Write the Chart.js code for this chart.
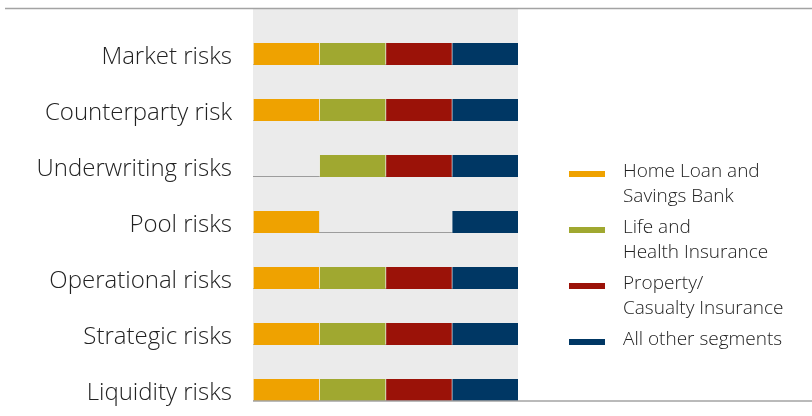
<!DOCTYPE html>
<html>
<head>
<meta charset="utf-8">
<script src="https://cdn.jsdelivr.net/npm/chart.js@4.4.1/dist/chart.umd.min.js"></script>
<style>
  html, body { margin: 0; padding: 0; background: #fff; width: 812px; height: 416px; overflow: hidden; }
  canvas { display: block; }
</style>
</head>
<body>
<canvas id="myChart" width="812" height="418"></canvas>
<script>
var risks = ['Market risks', 'Counterparty risk', 'Underwriting risks', 'Pool risks', 'Operational risks', 'Strategic risks', 'Liquidity risks'];

// 1 = the segment carries this risk, 0 = it does not
var homeLoan = [1, 1, 0, 1, 1, 1, 1];
var lifeHealth = [1, 1, 1, 0, 1, 1, 1];
var propertyCasualty = [1, 1, 1, 0, 1, 1, 1];
var otherSegments = [1, 1, 1, 1, 1, 1, 1];

var segmentNames = [['Home Loan and', 'Savings Bank'], ['Life and', 'Health Insurance'], ['Property/', 'Casualty Insurance'], ['All other segments']];
var segmentColors = ['#efa200', '#a0a830', '#9b1208', '#003764'];

var FONT = '"Open Sans", sans-serif';

// every segment owns one fixed column [i, i+1] on the x axis
function column(flags, i) {
    return flags.map(function (f) { return f ? [i, i + 1] : null; });
}

var flagSets = [homeLoan, lifeHealth, propertyCasualty, otherSegments];
var datasets = flagSets.map(function (flags, i) {
    return {
        label: segmentNames[i].join(' '),
        data: column(flags, i),
        backgroundColor: segmentColors[i],
        borderColor: 'rgba(255,255,255,0.3)',
        borderWidth: { left: 1, right: 0, top: 0, bottom: 0 },
        borderSkipped: false,
        grouped: false,
        barThickness: 22
    };
});

function rowBottom(chart, row) {
    var bar = chart.getDatasetMeta(3).data[row];
    return bar.y + bar.height / 2;
}

var riskFrame = {
    id: 'riskFrame',
    beforeDraw: function (chart) {
        var ctx = chart.ctx, area = chart.chartArea;
        var bottom = rowBottom(chart, risks.length - 1);
        ctx.save();
        ctx.fillStyle = '#ebebeb';
        ctx.fillRect(area.left, 9, area.right - area.left, bottom - 9);
        ctx.strokeStyle = '#a3a3a3';
        ctx.lineWidth = 1.5;
        ctx.beginPath();
        ctx.moveTo(5, 8.5);
        ctx.lineTo(chart.width, 8.5);
        ctx.stroke();
        ctx.restore();
    },
    beforeDatasetsDraw: function (chart) {
        // thin base line under each row, visible where a segment is missing
        var ctx = chart.ctx, x = chart.scales.x;
        ctx.save();
        ctx.strokeStyle = '#9c9c9c';
        ctx.lineWidth = 1;
        risks.forEach(function (r, i) {
            var y = Math.round(rowBottom(chart, i)) - 0.5;
            ctx.beginPath();
            ctx.moveTo(x.getPixelForValue(0), y);
            ctx.lineTo(x.getPixelForValue(4), y);
            ctx.stroke();
        });
        ctx.restore();
    },
    afterDraw: function (chart) {
        var ctx = chart.ctx, area = chart.chartArea, yScale = chart.scales.y;
        var bottom = rowBottom(chart, risks.length - 1);
        ctx.save();
        ctx.strokeStyle = '#a3a3a3';
        ctx.lineWidth = 1.5;
        ctx.beginPath();
        ctx.moveTo(area.left, bottom);
        ctx.lineTo(chart.width, bottom);
        ctx.stroke();

        // legend, lined up with the lower rows
        ctx.font = '300 19px ' + FONT;
        ctx.textBaseline = 'alphabetic';
        segmentNames.forEach(function (lines, i) {
            var my = Math.round(yScale.getPixelForValue(i + 2)) + 8;
            ctx.fillStyle = segmentColors[i];
            ctx.fillRect(569, my - 3, 36, 6);
            ctx.fillStyle = '#222';
            lines.forEach(function (t, k) {
                ctx.fillText(t, 623, my + 3 + k * 25);
            });
        });
        ctx.restore();
    }
};

const ctx = document.getElementById('myChart').getContext('2d');
var myChart = new Chart(ctx, {
    type: 'bar',
    data: { labels: risks, datasets: datasets },
    options: {
        indexAxis: 'y',
        responsive: false,
        animation: false,
        layout: { padding: { top: 26, right: 294, bottom: 0, left: 0 } },
        scales: {
            x: { display: false, min: 0, max: 4 },
            y: {
                grid: { display: false, drawTicks: false },
                border: { display: false },
                ticks: { color: '#222', padding: 21, labelOffset: 3, font: { family: FONT, size: 24, weight: '300' } },
                afterFit: function (scale) {
                    scale.width = 253;
                    scale.paddingTop = 0;
                    scale.paddingBottom = 0;
                }
            }
        },
        plugins: {
            legend: { display: false },
            tooltip: { enabled: false }
        }
    },
    plugins: [riskFrame]
});
</script>
</body>
</html>
